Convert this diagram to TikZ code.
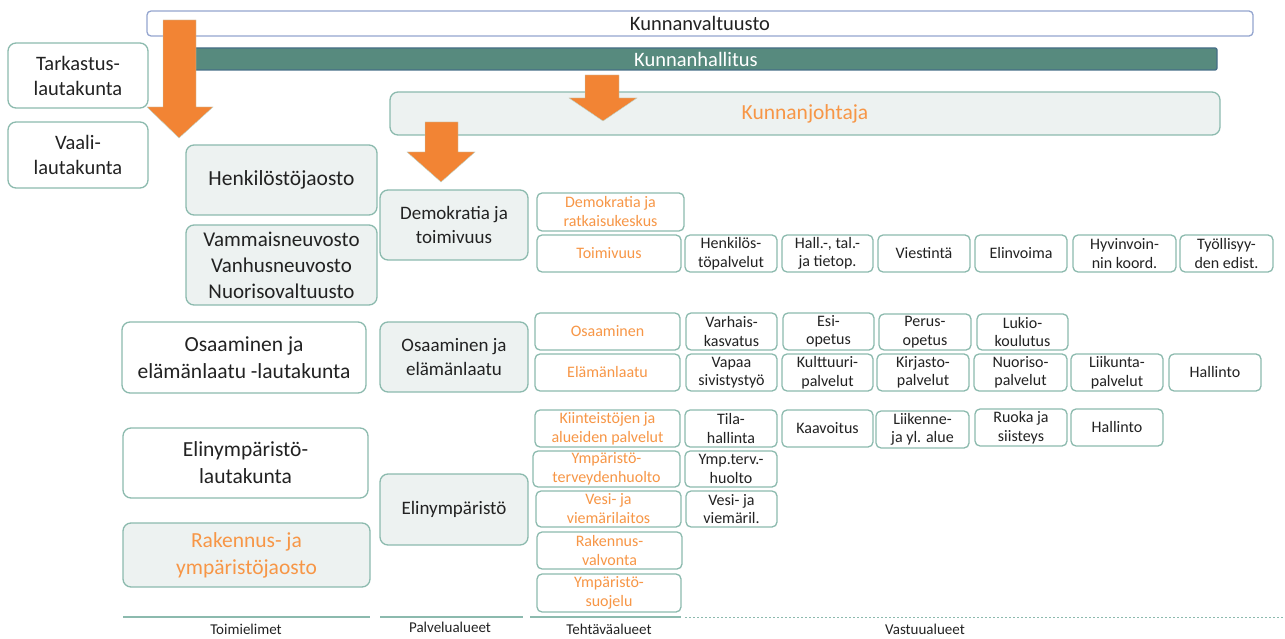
\documentclass[tikz,border=0pt]{standalone}
\usepackage{fontspec}
\setmainfont{Carlito}
\definecolor{boxline}{RGB}{140,186,174}
\definecolor{boxfill}{RGB}{237,242,241}
\definecolor{orng}{RGB}{247,150,70}
\definecolor{arrowc}{RGB}{242,132,52}
\definecolor{barfill}{RGB}{87,138,126}
\definecolor{barline}{RGB}{70,110,135}
\definecolor{valtline}{RGB}{148,165,207}
\definecolor{txt}{RGB}{34,34,34}
\newcommand\bx[7]{\node[#6, minimum width={(#4-#2)*1pt}, minimum height={(#5-#3)*1pt}] (#1) at ({(#2+#4)/2},{(#3+#5)/2}) {#7};}
\begin{document}
\begin{tikzpicture}[x=1pt,y=-1pt,
  base/.style={rounded corners=8pt, draw=boxline, line width=1.3pt, align=center, inner sep=0pt, text=txt},
  whitebox/.style={base, fill=white, font=\fontsize{21.5}{27}\selectfont},
  greybox/.style={base, fill=boxfill, font=\fontsize{21}{26}\selectfont},
  midbox/.style={base, fill=boxfill, font=\fontsize{19}{24}\selectfont},
  tbox/.style={base, fill=white, rounded corners=5pt, text=orng, font=\fontsize{16}{19}\selectfont},
  vbox/.style={base, fill=white, rounded corners=5pt, font=\fontsize{16}{18.5}\selectfont},
  blockarrow/.style={fill=arrowc, draw=boxline!60, line width=0.4pt},
  baseline/.style={draw=boxline, line width=1.4pt},
  collabel/.style={font=\fontsize{15}{17}\selectfont, text=txt, inner sep=0pt}]
\useasboundingbox (0,0) rectangle (1285,639);
% top
\bx{valt}{147}{11}{1253}{36}{base, fill=white, draw=valtline, rounded corners=4pt, font=\fontsize{20.5}{22}\selectfont}{Kunnanvaltuusto}
\bx{hall}{175}{48}{1217}{70}{base, fill=barfill, draw=barline, rounded corners=2pt, text=white, font=\fontsize{20.5}{22}\selectfont}{Kunnanhallitus}
\bx{johtaja}{390}{92}{1220}{135}{base, fill=boxfill, text=orng, font=\fontsize{21.5}{24}\selectfont}{Kunnanjohtaja}
% left
\bx{tark}{8}{43}{148}{108}{whitebox, font=\fontsize{20.5}{25}\selectfont}{Tarkastus-\\lautakunta}
\bx{vaali}{8}{122}{148}{188}{whitebox, font=\fontsize{20.5}{25}\selectfont}{Vaali-\\lautakunta}
\bx{henk}{186}{145}{377}{215}{greybox, font=\fontsize{21.5}{26}\selectfont}{Henkilöstöjaosto}
\bx{neuv}{186}{225}{377}{305}{greybox}{Vammaisneuvosto\\Vanhusneuvosto\\Nuorisovaltuusto}
\bx{oelltk}{122}{322}{366}{393}{whitebox}{Osaaminen ja\\elämänlaatu -lautakunta}
\bx{elyltk}{123}{428}{368}{498}{whitebox}{Elinympäristö-\\lautakunta}
\bx{rak}{123}{523}{370}{587}{greybox, font=\fontsize{21.5}{27}\selectfont, text=orng}{Rakennus- ja\\ympäristöjaosto}
% palvelualueet
\bx{demo}{380}{190}{528}{260}{midbox}{Demokratia ja\\toimivuus}
\bx{oel}{380}{322}{528}{392}{midbox}{Osaaminen ja\\elämänlaatu}
\bx{ely}{380}{474}{528}{545}{midbox}{Elinympäristö}
% tehtavaalueet
\bx{t1}{537}{193}{684}{231}{tbox}{Demokratia ja\\ratkaisukeskus}
\bx{t2}{537}{235}{681}{272}{tbox}{Toimivuus}
\bx{t3}{535}{313}{680}{350}{tbox}{Osaaminen}
\bx{t4}{535}{354}{680}{391}{tbox}{Elämänlaatu}
\bx{t5}{535}{410}{680}{447}{tbox}{Kiinteistöjen ja\\alueiden palvelut}
\bx{t6}{533}{451}{680}{487}{tbox}{Ympäristö-\\terveydenhuolto}
\bx{t7}{536}{491}{681}{527}{tbox}{Vesi- ja\\viemärilaitos}
\bx{t8}{537}{532}{682}{569}{tbox}{Rakennus-\\valvonta}
\bx{t9}{537}{574}{681}{612}{tbox}{Ympäristö-\\suojelu}
% vastuualueet
\bx{v11}{685}{235}{777}{272}{vbox}{Henkilös-\\töpalvelut}
\bx{v12}{782}{235}{873}{272}{vbox}{Hall.-, tal.-\\ja tietop.}
\bx{v13}{878}{235}{970}{272}{vbox}{Viestintä}
\bx{v14}{975}{235}{1067}{272}{vbox}{Elinvoima}
\bx{v15}{1073}{235}{1176}{272}{vbox}{Hyvinvoin-\\nin koord.}
\bx{v16}{1180}{235}{1273}{272}{vbox}{Työllisyy-\\den edist.}
\bx{v21}{686}{313}{777}{350}{vbox}{Varhais-\\kasvatus}
\bx{v22}{783}{313}{874}{350}{vbox}{Esi-\\opetus}
\bx{v23}{879}{314}{971}{350}{vbox}{Perus-\\opetus}
\bx{v24}{977}{314}{1068}{350}{vbox}{Lukio-\\koulutus}
\bx{v31}{686}{354}{777}{391}{vbox}{Vapaa\\sivistystyö}
\bx{v32}{782}{354}{873}{391}{vbox}{Kulttuuri-\\palvelut}
\bx{v33}{877}{354}{969}{391}{vbox}{Kirjasto-\\palvelut}
\bx{v34}{974}{354}{1067}{391}{vbox}{Nuoriso-\\palvelut}
\bx{v35}{1071}{354}{1163}{391}{vbox}{Liikunta-\\palvelut}
\bx{v36}{1169}{354}{1261}{391}{vbox}{Hallinto}
\bx{v41}{685}{410}{777}{447}{vbox}{Tila-\\hallinta}
\bx{v42}{782}{410}{873}{447}{vbox}{Kaavoitus}
\bx{v43}{876}{411}{969}{448}{vbox}{Liikenne-\\ja yl. alue}
\bx{v44}{975}{409}{1067}{446}{vbox}{Ruoka ja\\siisteys}
\bx{v45}{1071}{409}{1163}{446}{vbox}{Hallinto}
\bx{v51}{685}{451}{777}{487}{vbox}{Ymp.terv.-\\huolto}
\bx{v61}{686}{491}{777}{527}{vbox}{Vesi- ja\\viemäril.}
% block arrows
\fill[blockarrow] (163,20) -- (196,20) -- (196,107) -- (213,107) -- (179,138) -- (147,107) -- (163,107) -- cycle;
\fill[blockarrow] (585,75) -- (619,75) -- (619,98) -- (637,98) -- (603,121) -- (569,98) -- (585,98) -- cycle;
\fill[blockarrow] (425,122) -- (458,122) -- (458,152) -- (475,152) -- (441,182) -- (407,152) -- (425,152) -- cycle;
% column lines
\coordinate (l1a) at (123,617); \coordinate (l1b) at (370,617);
\coordinate (l2a) at (380,617); \coordinate (l2b) at (523,617);
\coordinate (l3a) at (530,617); \coordinate (l3b) at (681,617);
\coordinate (l4a) at (685,617); \coordinate (l4b) at (1285,617);
\draw[baseline] (l1a) -- (l1b);
\draw[baseline] (l2a) -- (l2b);
\draw[baseline] (l3a) -- (l3b);
\draw[draw=boxline, line width=1pt, dash pattern=on 1.5pt off 2.5pt] (l4a) -- (l4b);
\node[collabel] (lab1) at (246,629) {Toimielimet};
\node[collabel] (lab2) at (450,627) {Palvelualueet};
\node[collabel] (lab3) at (609,629) {Tehtäväalueet};
\node[collabel] (lab4) at (925,629) {Vastuualueet};
\end{tikzpicture}
\end{document}
